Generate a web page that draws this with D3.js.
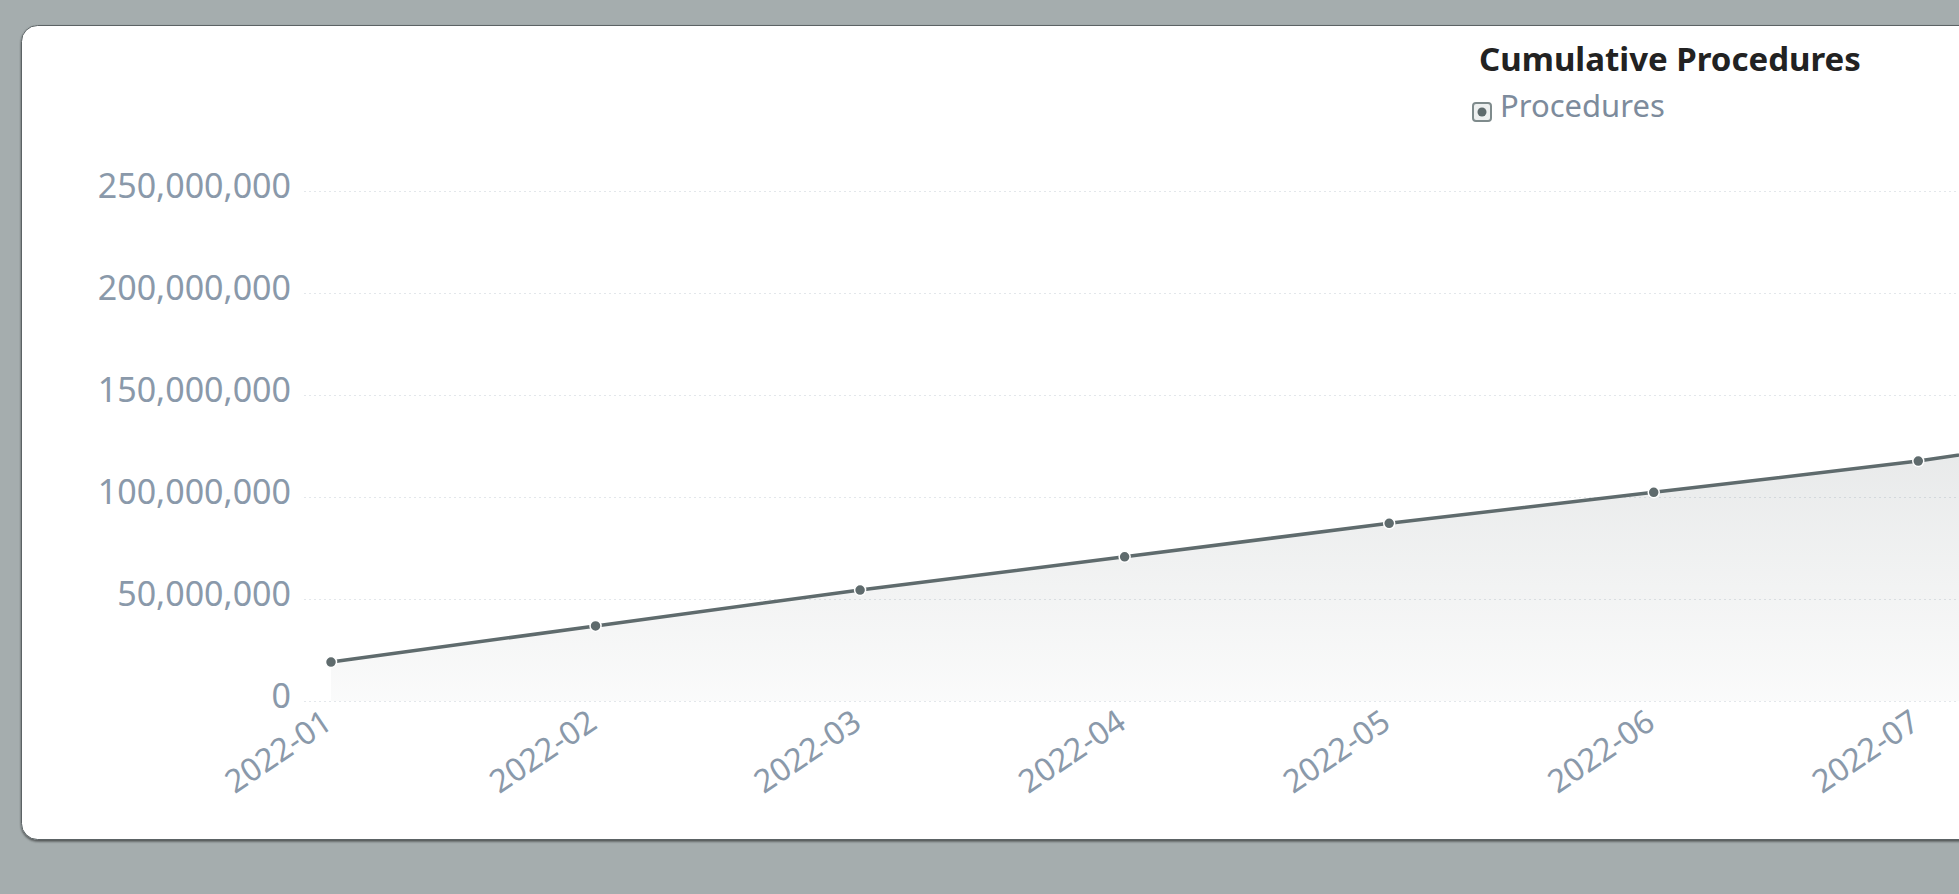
<!DOCTYPE html>
<html>
<head>
<meta charset="utf-8">
<script src="https://cdn.jsdelivr.net/npm/d3@7"></script>
<style>
  html, body { margin: 0; padding: 0; background: #a5adae; overflow: hidden; }
  body { width: 1959px; height: 894px; font-family: "Noto Sans", "Open Sans", sans-serif; }
  svg { display: block; }
</style>
</head>
<body>
<svg id="chart"></svg>
<script>
// months on the x axis
const months = ["2022-01", "2022-02", "2022-03", "2022-04", "2022-05", "2022-06",
                "2022-07", "2022-08", "2022-09", "2022-10", "2022-11", "2022-12"];
// cumulative procedures per month
const procedures = [19100000, 36800000, 54400000, 70700000, 87100000, 102300000,
                    117600000, 137000000, 155000000, 172000000, 190000000, 208000000];
// y tick values
const yTicks = [0, 50000000, 100000000, 150000000, 200000000, 250000000];

const chartTitle = "Cumulative Procedures";
const seriesName = "Procedures";

drawChart();

function drawChart() {
    const svgWidth = 3320;
    const svgHeight = 894;
    const card = { x: 21.5, y: 25.5, w: 3280, h: 814 };
    const plot = { left: 331, right: 3241, top: 191, bottom: 701, gridLeft: 304 };

    const svg = d3.select("#chart")
                    .attr("width", svgWidth)
                    .attr("height", svgHeight);

    const defs = svg.append("defs");

    // soft shadow under the card
    const shadow = defs.append("filter").attr("id", "shadow")
                        .attr("x", "-2%").attr("y", "-2%").attr("width", "104%").attr("height", "106%");
    shadow.append("feDropShadow")
          .attr("dx", 0).attr("dy", 1.5).attr("stdDeviation", 1)
          .attr("flood-color", "#000").attr("flood-opacity", 0.55);

    // area gradient, fades to white at the bottom
    const grad = defs.append("linearGradient").attr("id", "areaFill")
                      .attr("gradientUnits", "userSpaceOnUse")
                      .attr("x1", 0).attr("x2", 0)
                      .attr("y1", plot.top).attr("y2", plot.bottom);
    grad.append("stop").attr("offset", 0).attr("stop-color", "#5f6b6d").attr("stop-opacity", 0.26);
    grad.append("stop").attr("offset", 1).attr("stop-color", "#5f6b6d").attr("stop-opacity", 0.03);

    //card
    svg.append("rect")
        .attr("x", card.x).attr("y", card.y)
        .attr("width", card.w).attr("height", card.h)
        .attr("rx", 16).attr("ry", 16)
        .attr("fill", "#fff")
        .attr("stroke", "#5b6365")
        .attr("stroke-width", 1)
        .attr("filter", "url(#shadow)");

    //scales
    const xScale = d3.scalePoint()
                        .domain(months)
                        .range([plot.left, plot.right]);

    const yScale = d3.scaleLinear()
                        .domain([0, d3.max(yTicks)])
                        .range([plot.bottom, plot.top]);

    //y axis with dotted grid lines
    const yAxis = d3.axisLeft(yScale)
                    .tickValues(yTicks)
                    .tickFormat(d3.format(","))
                    .tickSizeInner(-(plot.right - plot.gridLeft))
                    .tickSizeOuter(0)
                    .tickPadding(13);

    const yG = svg.append("g")
        .attr("transform", `translate(${plot.gridLeft}, 0)`)
        .call(yAxis);
    yG.select(".domain").remove();
    yG.selectAll(".tick line")
        .attr("stroke", "#e3e7eb")
        .attr("stroke-width", 1.2)
        .attr("stroke-dasharray", "2,3");
    yG.selectAll(".tick text")
        .attr("fill", "#8a99aa")
        .attr("font-size", 34)
        .attr("font-family", "'Noto Sans', sans-serif")
        .attr("dy", null)
        .attr("y", 6);

    //area + line
    const area = d3.area()
                    .x((d, i) => xScale(months[i]))
                    .y0(yScale(0))
                    .y1(d => yScale(d));

    const line = d3.line()
                    .x((d, i) => xScale(months[i]))
                    .y(d => yScale(d));

    svg.append("path")
        .datum(procedures)
        .attr("d", area)
        .attr("fill", "url(#areaFill)");

    svg.append("path")
        .datum(procedures)
        .attr("d", line)
        .attr("fill", "none")
        .attr("stroke", "#5f6b6d")
        .attr("stroke-width", 3.5);

    svg.selectAll("circle.dot")
        .data(procedures)
        .enter()
        .append("circle")
        .attr("class", "dot")
        .attr("cx", (d, i) => xScale(months[i]))
        .attr("cy", d => yScale(d))
        .attr("r", 5.5)
        .attr("fill", "#5f6b6d")
        .attr("stroke", "#fff")
        .attr("stroke-width", 1.5);

    //x axis, rotated labels
    const xAxis = d3.axisBottom(xScale)
                    .tickSize(0)
                    .tickPadding(0);

    const xG = svg.append("g")
        .attr("transform", `translate(0, ${plot.bottom})`)
        .call(xAxis);
    xG.select(".domain").remove();
    xG.selectAll(".tick text")
        .attr("fill", "#8a99aa")
        .attr("font-size", 32)
        .attr("font-family", "'Noto Sans', sans-serif")
        .attr("x", 0).attr("y", 0).attr("dy", null)
        .attr("dominant-baseline", "middle")
        .attr("text-anchor", "end")
        .attr("transform", "translate(-2, 19) rotate(-34)");

    //title + legend
    svg.append("text")
        .attr("x", 1670).attr("y", 71)
        .attr("text-anchor", "middle")
        .attr("font-size", 33)
        .attr("font-weight", "bold")
        .attr("font-family", "'Noto Sans', sans-serif")
        .attr("fill", "#222")
        .text(chartTitle);

    const legend = svg.append("g").attr("transform", "translate(1472, 102)");
    legend.append("rect")
        .attr("x", 1).attr("y", 1).attr("width", 18).attr("height", 18)
        .attr("rx", 3)
        .attr("fill", "#eef0f0")
        .attr("stroke", "#7f8b8c")
        .attr("stroke-width", 2);
    legend.append("circle")
        .attr("cx", 10).attr("cy", 10).attr("r", 4.5)
        .attr("fill", "#5f6b6d");
    legend.append("text")
        .attr("x", 28).attr("y", 15)
        .attr("font-size", 31)
        .attr("font-family", "'Noto Sans', sans-serif")
        .attr("fill", "#7d8b9c")
        .text(seriesName);
}
</script>
</body>
</html>
